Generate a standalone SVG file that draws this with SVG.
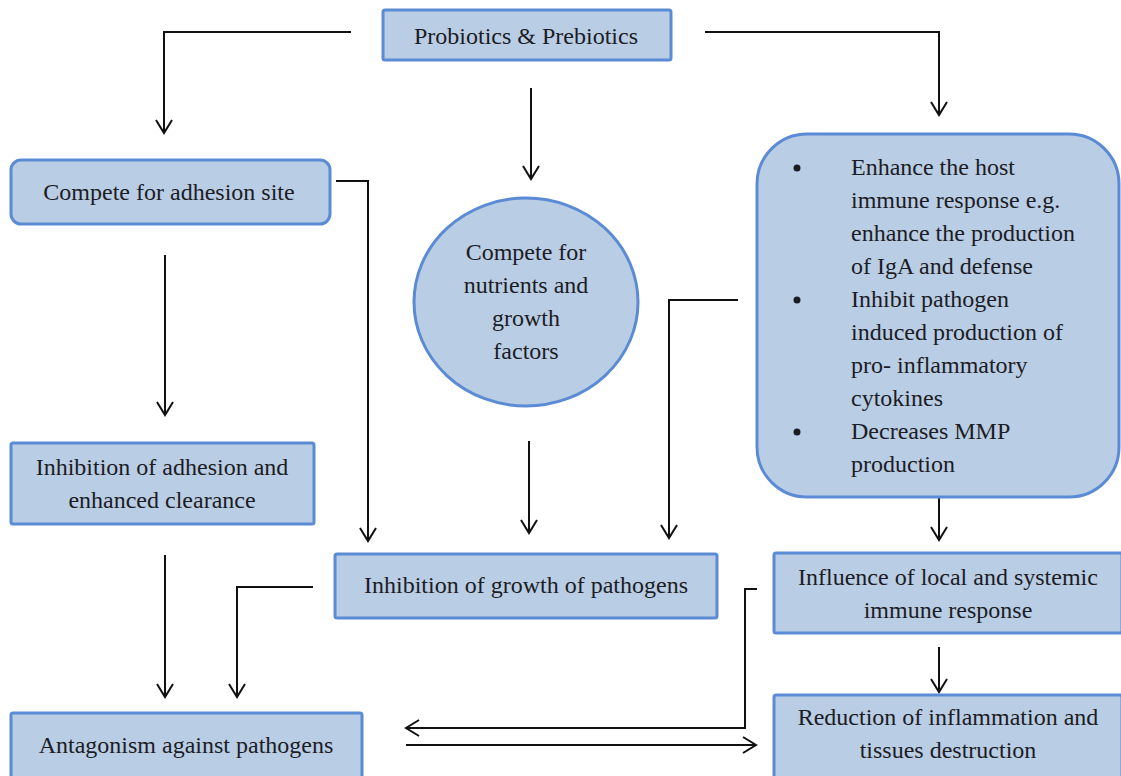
<svg xmlns="http://www.w3.org/2000/svg" width="1121" height="776" viewBox="0 0 1121 776">
  <style>
    .box { fill: #b9cde5; stroke: #5b8bd4; stroke-width: 3; }
    .mid { text-anchor: middle; }
    .wire { fill: none; stroke: #111; stroke-width: 2; }
    .arr { marker-end: url(#chev); }
  </style>
  <defs>
    <marker id="chev" viewBox="0 0 16 18" refX="14" refY="9" markerWidth="16" markerHeight="18" markerUnits="userSpaceOnUse" orient="auto">
      <path d="M1,1 L14,9 L1,17" fill="none" stroke="#111" stroke-width="2"/>
    </marker>
  </defs>

  <rect width="1121" height="776" fill="#ffffff"/>

  <!-- connectors -->
  <g id="connectors">
    <path class="wire arr" d="M351,32 H164 V133"/>
    <path class="wire arr" d="M705,32 H939 V115"/>
    <path class="wire arr" d="M531,88 V179"/>
    <path class="wire arr" d="M336,181 H368 V541"/>
    <path class="wire arr" d="M165,255 V415"/>
    <path class="wire arr" d="M529,441 V533"/>
    <path class="wire arr" d="M738,300 H669 V538"/>
    <path class="wire arr" d="M165,555 V697"/>
    <path class="wire arr" d="M313,587 H237 V697"/>
    <path class="wire arr" d="M939,497 V540"/>
    <path class="wire arr" d="M939,647 V692"/>
    <path class="wire arr" d="M757,589 H745 V728 H406"/>
    <path class="wire arr" d="M406,745 H756"/>
  </g>

  <g font-family="Liberation Serif, Times New Roman, Times, serif" font-size="24" fill="#1c1c24">
  <g id="probiotics">
    <rect class="box" x="383" y="10" width="288" height="50" rx="2"/>
    <text class="mid" x="526" y="44">Probiotics &amp; Prebiotics</text>
  </g>

  <g id="adhesion-site">
    <rect class="box" x="11" y="160" width="319" height="64" rx="10"/>
    <text class="mid" x="169" y="200">Compete for adhesion site</text>
  </g>

  <g id="nutrients">
    <ellipse class="box" cx="526" cy="302" rx="112" ry="104"/>
    <text class="mid" x="526" y="260">Compete for</text>
    <text class="mid" x="526" y="293">nutrients and</text>
    <text class="mid" x="526" y="326">growth</text>
    <text class="mid" x="526" y="359">factors</text>
  </g>

  <g id="immune-effects">
    <rect class="box" x="757" y="134" width="362" height="363" rx="50"/>
    <circle cx="797" cy="168" r="3.5"/>
    <circle cx="797" cy="300" r="3.5"/>
    <circle cx="797" cy="432" r="3.5"/>
    <text x="851" y="175">Enhance the host</text>
    <text x="851" y="208">immune response e.g.</text>
    <text x="851" y="241">enhance the production</text>
    <text x="851" y="274">of IgA and defense</text>
    <text x="851" y="307">Inhibit pathogen</text>
    <text x="851" y="340">induced production of</text>
    <text x="851" y="373">pro- inflammatory</text>
    <text x="851" y="406">cytokines</text>
    <text x="851" y="439">Decreases MMP</text>
    <text x="851" y="472">production</text>
  </g>

  <g id="adhesion-inhibition">
    <rect class="box" x="11" y="443" width="303" height="81" rx="2"/>
    <text class="mid" x="162" y="475">Inhibition of adhesion and</text>
    <text class="mid" x="162" y="508">enhanced clearance</text>
  </g>

  <g id="growth-inhibition">
    <rect class="box" x="335" y="554" width="382" height="64" rx="2"/>
    <text class="mid" x="526" y="593">Inhibition of growth of pathogens</text>
  </g>

  <g id="immune-influence">
    <rect class="box" x="774" y="553" width="348" height="80" rx="2"/>
    <text class="mid" x="948" y="585">Influence of local and systemic</text>
    <text class="mid" x="948" y="618">immune response</text>
  </g>

  <g id="antagonism">
    <rect class="box" x="11" y="713" width="351" height="66" rx="2"/>
    <text class="mid" x="186" y="753">Antagonism against pathogens</text>
  </g>

  <g id="inflammation">
    <rect class="box" x="774" y="695" width="348" height="84" rx="2"/>
    <text class="mid" x="948" y="725">Reduction of inflammation and</text>
    <text class="mid" x="948" y="758">tissues destruction</text>
  </g>
  </g>
</svg>
